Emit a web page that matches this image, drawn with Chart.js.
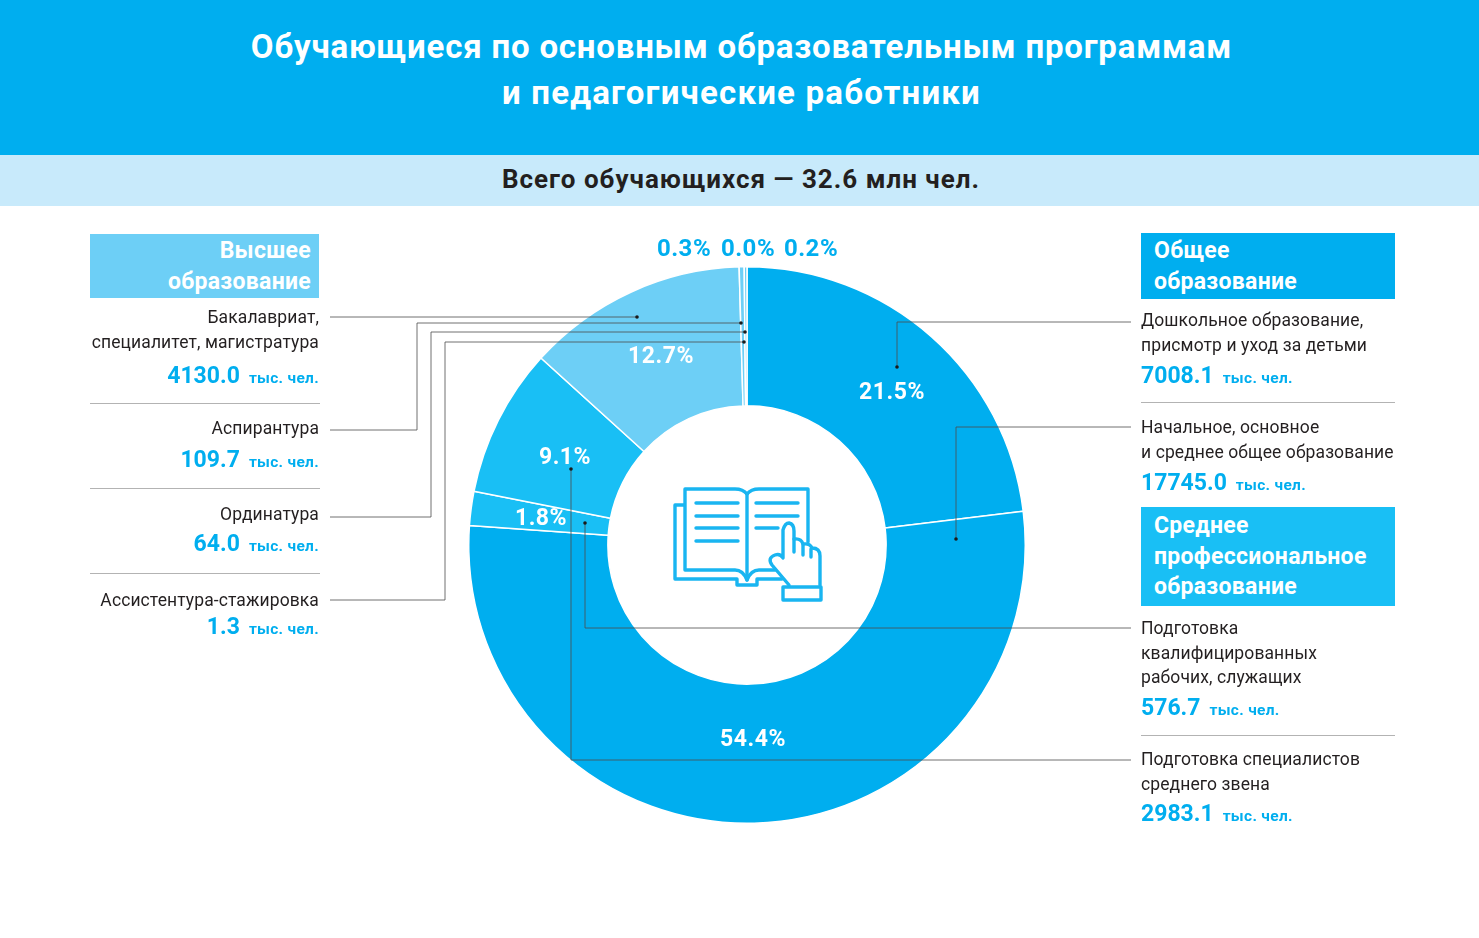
<!DOCTYPE html>
<html lang="ru">
<head>
<meta charset="utf-8">
<title>Обучающиеся и педагогические работники</title>
<script src="https://cdn.jsdelivr.net/npm/chart.js@4"></script>
<style>
  html, body { margin: 0; padding: 0; background: #fff; }
  body { position: relative; width: 1479px; height: 938px; overflow: hidden; font-family: Roboto, sans-serif; color: #231f20; }
  #topBand { position: absolute; left: 0; top: 0; width: 1479px; height: 155px; background: #00aeef; }
  #subBand { position: absolute; left: 0; top: 155px; width: 1479px; height: 51px; background: #c8eafb; }
  .t { position: absolute; white-space: nowrap; }
  .title { left: 0; width: 1483px; text-align: center; color: #fff; font-weight: 700; font-size: 33px; line-height: 45px; letter-spacing: 0.8px; }
  #title2 { letter-spacing: 1.2px; }
  #total { left: 0; top: 162px; width: 1482px; text-align: center; font-weight: 700; font-size: 26px; line-height: 34px; letter-spacing: 1px; }
  .head { position: absolute; color: #fff; font-weight: 700; font-size: 23px; line-height: 30.5px; box-sizing: border-box; white-space: nowrap; letter-spacing: 0.3px; }
  .line { font-size: 17.5px; line-height: 24px; letter-spacing: 0.1px; }
  .num { color: #00aeef; font-weight: 700; font-size: 23px; line-height: 30px; }
  .unit { font-size: 15.5px; margin-left: 9px; letter-spacing: 0.3px; }
  .pct { color: #fff; font-weight: 700; font-size: 23px; line-height: 30px; transform: translate(-50%, -50%); letter-spacing: 0.5px; }
  .pct.out { color: #00aeef; font-size: 24px; }
  .rule { position: absolute; height: 1px; background: #b3b3b3; }
  #chartBox { position: absolute; left: 468px; top: 266px; width: 558px; height: 558px; }
  svg { position: absolute; left: 0; top: 0; }
</style>
</head>
<body>
<div id="topBand"></div>
<div id="subBand"></div>
<div class="t title" style="top:24px" id="title1"></div>
<div class="t title" style="top:70px" id="title2"></div>
<div class="t" id="total"></div>
<div id="chartBox"><canvas id="donut" width="558" height="558"></canvas></div>
<svg id="overlay" width="1479" height="938"></svg>
<div id="labels"></div>

<script>
// slice shares as they are actually drawn in the picture (they differ a bit from the printed percents)
const categories = ["Дошкольное", "Начальное, основное и среднее", "Квалифицированные рабочие", "Специалисты среднего звена",
  "Бакалавриат, специалитет, магистратура", "Аспирантура", "Ассистентура-стажировка", "Ординатура"];
const drawnShares = [23.06, 53.06, 1.97, 8.64, 12.82, 0.29, 0.0, 0.16];
const sliceColors = ["#00aeef", "#00aeef", "#19bff5", "#19bff5", "#6dcff6", "#6dcff6", "#6dcff6", "#6dcff6"];

// printed percents
const pctLabels = ["21.5%", "54.4%", "1.8%", "9.1%", "12.7%", "0.3%", "0.0%", "0.2%"];
const pctX = [892, 753, 541, 565, 661, 684, 748, 811];
const pctY = [392, 739, 518, 457, 356, 248, 248, 248];

// printed values, thousand people
const leftNames = [["Бакалавриат,", "специалитет, магистратура"], ["Аспирантура"], ["Ординатура"], ["Ассистентура-стажировка"]];
const leftValues = ["4130.0", "109.7", "64.0", "1.3"];
const leftTops = [305, 416, 502, 588];
const leftNumTops = [361, 445, 529, 612];
const leftRules = [403, 488, 573];

const rightNames = [["Дошкольное образование,", "присмотр и уход за детьми"], ["Начальное, основное", "и среднее общее образование"],
  ["Подготовка", "квалифицированных", "рабочих, служащих"], ["Подготовка специалистов", "среднего звена"]];
const rightValues = ["7008.1", "17745.0", "576.7", "2983.1"];
const rightTops = [308, 415, 616, 747];
const rightNumTops = [361, 468, 693, 799];
const rightRules = [402, 735];

// leader lines from the text columns to the slices
const leaders = [
  [[1131, 322], [897, 322], [897, 367]],
  [[1131, 427], [956, 427], [956, 539]],
  [[1131, 628], [585, 628], [585, 523]],
  [[1131, 760], [571, 760], [571, 469]],
  [[330, 317], [637, 317]],
  [[330, 430], [417, 430], [417, 323], [741, 323]],
  [[330, 517], [431, 517], [431, 332], [745, 332]],
  [[330, 600], [445, 600], [445, 342], [744, 342]]
];

function setText(id, value) {
  document.getElementById(id).textContent = value;
}

function addDiv(className, style, html) {
  const node = document.createElement("div");
  node.className = className;
  node.style.cssText = style;
  node.innerHTML = html;
  document.getElementById("labels").appendChild(node);
}

function addHead(lines, left, top, width, height, color, align, pad, padTop) {
  addDiv("head", `left:${left}px;top:${top}px;width:${width}px;height:${height}px;background:${color};text-align:${align};padding:${padTop}px ${pad}px 0;`, lines.join("<br>"));
}

function renderColumn(names, values, tops, numTops, side) {
  names.forEach((lines, i) => {
    lines.forEach((line, j) => {
      addDiv("t line", `${side}top:${tops[i] + j * 24.5}px`, line);
    });
    addDiv("t num", `${side}top:${numTops[i]}px`, `${values[i]}<span class="unit">тыс. чел.</span>`);
  });
}

function renderLeaders() {
  const svg = document.getElementById("overlay");
  let out = "";
  leaders.forEach(points => {
    const end = points[points.length - 1];
    out += `<polyline points="${points.map(p => p.join(",")).join(" ")}" fill="none" stroke="#4d4d4d" stroke-width="0.8"/>`;
    out += `<circle cx="${end[0]}" cy="${end[1]}" r="1.8" fill="#1a1a1a"/>`;
  });
  // open book icon with pointing hand
  out += `<g fill="none" stroke="#19b5f1" stroke-width="3.4" stroke-linejoin="round" stroke-linecap="round">
    <path d="M747 494 Q743 489 735 489 H685 V570 H735 Q743 570 747 580 Q751 570 759 570 H775"/>
    <path d="M747 494 Q751 489 759 489 H808 V542"/>
    <path d="M747 494 V580"/>
    <path d="M684 505 H675 V579 H737 V585 H757 V579 H782"/>
    <path d="M696 503 H738 M696 516 H738 M696 528 H738 M696 541 H738 M756 503 H798 M756 516 H798 M756 528 H778"/>
    <path d="M789 585 L772 565 Q767 558 775 555 Q780 553 783 558 V530 Q785 523 789 523 Q794 524 794 531 V539 Q801 538 803 544 Q810 543 812 548 Q820 548 820 556 V585"/>
    <path d="M794 539 V552 M803 544 V555 M811 549 V557"/>
    <rect x="783" y="587" width="38" height="13"/>
  </g>`;
  svg.innerHTML = out;
}

function renderText() {
  setText("title1", "Обучающиеся по основным образовательным программам");
  setText("title2", "и педагогические работники");
  setText("total", "Всего обучающихся — 32.6 млн чел.");

  addHead(["Высшее", "образование"], 90, 234, 229, 64, "#6dcff6", "right", 8, 2);
  addHead(["Общее", "образование"], 1141, 233, 254, 66, "#00aeef", "left", 13, 3);
  addHead(["Среднее", "профессиональное", "образование"], 1141, 507, 254, 99, "#19bff5", "left", 13, 4);

  renderColumn(leftNames, leftValues, leftTops, leftNumTops, "right:1160px;text-align:right;");
  renderColumn(rightNames, rightValues, rightTops, rightNumTops, "left:1141px;");

  leftRules.forEach(y => addDiv("rule", `left:90px;width:230px;top:${y}px`, ""));
  rightRules.forEach(y => addDiv("rule", `left:1141px;width:254px;top:${y}px`, ""));

  pctLabels.forEach((label, i) => {
    const cls = pctY[i] < 260 ? "t pct out" : "t pct";
    addDiv(cls, `left:${pctX[i]}px;top:${pctY[i]}px`, label);
  });
}

function renderChart() {
  new Chart(document.getElementById("donut"), {
    type: "doughnut",
    data: {
      labels: categories,
      datasets: [{ data: drawnShares, backgroundColor: sliceColors, borderColor: "#fff", borderWidth: 1.5 }]
    },
    options: {
      responsive: false,
      animation: false,
      cutout: "50%",
      layout: { padding: 0 },
      plugins: { legend: { display: false }, tooltip: { enabled: false } }
    }
  });
}

window.addEventListener("DOMContentLoaded", () => {
  renderChart();
  renderLeaders();
  renderText();
});
</script>
</body>
</html>
